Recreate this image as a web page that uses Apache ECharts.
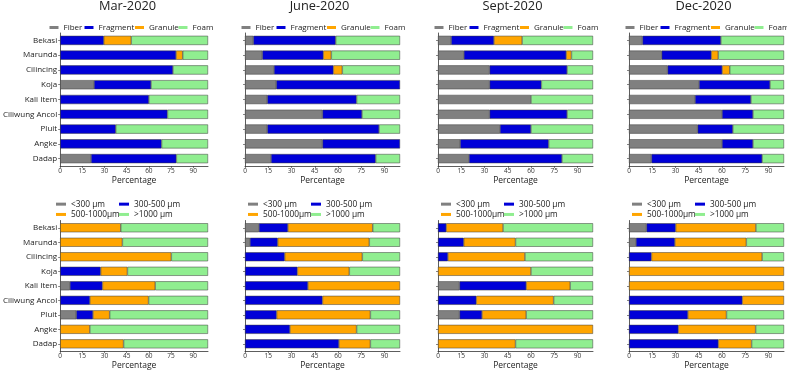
<!DOCTYPE html>
<html><head><meta charset="utf-8">
<script src="https://cdn.jsdelivr.net/npm/echarts@6/dist/echarts.min.js"></script>
<style>html,body{margin:0;padding:0;background:#fff}#c{width:787px;height:371px}</style>
</head><body><div id="c"></div>
<script>
const categories = ['Bekasi','Marunda','Cilincing','Koja','Kali Item','Ciliwung Ancol','Pluit','Angke','Dadap'];
const months = ['Mar-2020','June-2020','Sept-2020','Dec-2020'];
const xTicks = [0,15,30,45,60,75,90];

const typeNames = ['Fiber','Fragment','Granule','Foam'];
const sizeNames = ['<300 µm','300-500 µm','500-1000µm','>1000 µm'];

// Shape type (top row)
const marFiber    = [0,0,0,22.9,0,0,0,0,20.9];
const marFragment = [29.5,78.4,76.3,38.6,60,72.6,37.6,68.6,57.7];
const marGranule  = [18.6,4.5,0,0,0,0,0,0,0];
const marFoam     = [51.9,17.1,23.7,38.5,40,27.4,62.4,31.4,21.4];

const junFiber    = [5.4,11.2,18.7,20.2,14.4,50,14.4,50,16.8];
const junFragment = [53.1,39.3,38.3,79.8,57.6,25.5,72.1,50,67.5];
const junGranule  = [0,5.2,5.8,0,0,0,0,0,0];
const junFoam     = [41.5,44.3,37.2,0,28,24.5,13.5,0,15.7];

const sepFiber    = [8.5,16.7,33.3,33.3,60,33.3,40,14.3,20];
const sepFragment = [27.6,66,50,33.4,0,50,20,57.1,60];
const sepGranule  = [18.2,3.4,0,0,0,0,0,0,0];
const sepFoam     = [45.7,13.9,16.7,33.3,40,16.7,40,28.6,20];

const decFiber    = [8.7,21.1,24.9,45.2,42.6,60,44.3,60,14.5];
const decFragment = [50.6,32,35.2,45.8,36.1,20,22.7,20,71.4];
const decGranule  = [0,4.5,4.9,0,0,0,0,0,0];
const decFoam     = [40.7,42.4,35,9,21.3,20,33,20,14.1];

// Size class (bottom row)
const marS300  = [0,0,0,0,6.6,0,10.9,0,0];
const marS500  = [0,0,0,27.4,22,20.1,11.3,0,0];
const marS1000 = [41,42.1,75.2,18.1,35.7,39.7,11.3,20.1,42.9];
const marSXL   = [59,57.9,24.8,54.5,35.7,40.2,66.5,79.9,57.1];

const junS300  = [9,3.2,0,0,0,0,0,0,0];
const junS500  = [18.7,17.9,25.6,33.8,40.6,50,20.4,29,60.6];
const junS1000 = [54.7,59.1,50.1,33.5,59.4,50,60.5,43,20.3];
const junSXL   = [17.6,19.8,24.3,32.7,0,0,19.1,28,19.1];

const sepS300  = [0,0,0,0,13.9,0,13.9,0,0];
const sepS500  = [5.3,16.6,6.4,0,43,24.7,14.5,0,0];
const sepS1000 = [36.7,33.4,49.7,60,28.4,49.9,28.5,100,50];
const sepSXL   = [58,50,43.9,40,14.7,25.4,43.1,0,50];

const decS300  = [11.3,4.5,0,0,0,0,0,0,0];
const decS500  = [18.8,25.1,14.5,0,0,73.1,38,31.8,57.6];
const decS1000 = [51.8,46.1,71.4,100,100,26.9,24.9,49.9,21.5];
const decSXL   = [18.1,24.3,14.1,0,0,0,37.1,18.3,20.9];

const typeData = [
  [marFiber,marFragment,marGranule,marFoam],
  [junFiber,junFragment,junGranule,junFoam],
  [sepFiber,sepFragment,sepGranule,sepFoam],
  [decFiber,decFragment,decGranule,decFoam]
];
const sizeData = [
  [marS300,marS500,marS1000,marSXL],
  [junS300,junS500,junS1000,junSXL],
  [sepS300,sepS500,sepS1000,sepSXL],
  [decS300,decS500,decS1000,decSXL]
];

const colors = ['#808080','#0000d8','#ffa500','#90ee90'];
const FONT = 'Open Sans';
const lefts = [53, 245, 438, 629];
const W = 155;
const rows = [{top:33,height:133},{top:220.5,height:131.5}];
const typeLegendOffsets = [-3.5, 31.5, 82, 125.5];

const grid=[], xAxis=[], yAxis=[], series=[], title=[], legend=[];
let gi = 0;
for (let r=0;r<2;r++){
  for (let c=0;c<4;c++){
    grid.push({left:lefts[c], top:rows[r].top, width:W, height:rows[r].height, containLabel:false});
    xAxis.push({
      type:'value', gridIndex:gi, min:0, max:100, interval:15,
      name:'Percentage', nameLocation:'middle', nameGap:7,
      nameTextStyle:{fontSize:8.5, color:'#222', fontFamily:FONT, verticalAlign:'top'},
      axisLine:{show:true, lineStyle:{color:'#333', width:0.8}},
      axisTick:{show:true, length:2, lineStyle:{color:'#333', width:0.6}},
      axisLabel:{fontSize:6.5, color:'#333', margin:2, fontFamily:FONT, showMaxLabel:false,
        formatter: v => xTicks.includes(v) ? String(v) : ''},
      splitLine:{show:false}
    });
    yAxis.push({
      type:'category', gridIndex:gi, data:categories, inverse:true,
      axisLine:{show:true, lineStyle:{color:'#333', width:0.8}},
      axisTick:{show:true, length:2, alignWithLabel:true, lineStyle:{color:'#333', width:0.6}},
      axisLabel:{show:c===0, fontSize:8, color:'#222', margin:3, fontFamily:FONT}
    });
    const names = r===0 ? typeNames : sizeNames;
    const data = r===0 ? typeData[c] : sizeData[c];
    for (let s=0;s<4;s++){
      series.push({
        type:'bar', name:names[s], xAxisIndex:gi, yAxisIndex:gi, stack:'p'+gi,
        barCategoryGap:'38%',
        itemStyle:{color:colors[s], borderColor:'#3a3a3a', borderWidth:0.5},
        data:data[s].map(v => v===0 ? '-' : v)
      });
    }
    gi++;
  }
}
const legText = {fontSize:8, color:'#222', fontFamily:FONT};
for (let c=0;c<4;c++){
  title.push({text:months[c], left:lefts[c]+W/2-3, top:0, padding:0, textAlign:'center',
    textStyle:{fontSize:12.8, fontWeight:'normal', color:'#222', fontFamily:FONT}});
  for (let k=0;k<4;k++){
    legend.push({
      data:[typeNames[k]], left:lefts[c]+typeLegendOffsets[k], top:23.5, padding:0,
      itemWidth:9, itemHeight:3, icon:'rect', itemStyle:{borderWidth:0},
      textStyle:legText, selectedMode:false
    });
  }
  legend.push({
    data:[sizeNames[0], sizeNames[2]], orient:'vertical', left:lefts[c]+3, top:199, padding:0,
    itemWidth:10, itemHeight:3, itemGap:0, icon:'rect', itemStyle:{borderWidth:0},
    textStyle:Object.assign({lineHeight:10.3}, legText, {fontSize:8.3}), selectedMode:false
  });
  legend.push({
    data:[sizeNames[1], sizeNames[3]], orient:'vertical', left:lefts[c]+66, top:199, padding:0,
    itemWidth:10, itemHeight:3, itemGap:0, icon:'rect', itemStyle:{borderWidth:0},
    textStyle:Object.assign({lineHeight:10.3}, legText, {fontSize:8.3}), selectedMode:false
  });
}

const chart = echarts.init(document.getElementById('c'), null, {renderer:'canvas'});
chart.setOption({
  animation:false, backgroundColor:'#fff', color:colors,
  title, legend, grid, xAxis, yAxis, series
});
</script></body></html>
